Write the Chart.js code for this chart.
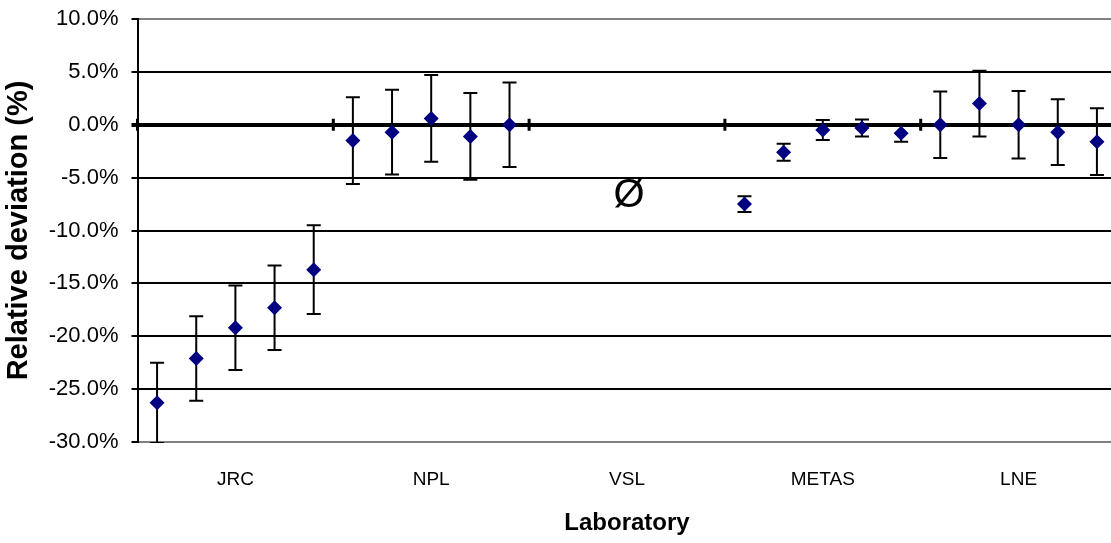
<!DOCTYPE html>
<html>
<head>
<meta charset="utf-8">
<script src="https://cdn.jsdelivr.net/npm/chart.js@4/dist/chart.umd.min.js"></script>
<style>
  html, body { margin: 0; padding: 0; background: #fff; overflow: hidden; }
  #wrap { width: 1125px; height: 543px; }
</style>
</head>
<body>
<div id="wrap"><canvas id="devChart" width="1125" height="543"></canvas></div>
<script>
// laboratories, 5 measurements each (VSL: no result)
const labs = ['JRC', 'NPL', 'VSL', 'METAS', 'LNE'];
const jrcDev = [-26.3, -22.1, -19.2, -17.3, -13.7];
const jrcErr = [3.8, 4.0, 4.0, 4.0, 4.2];
const nplDev = [-1.5, -0.7, 0.6, -1.1, 0.0];
const nplErr = [4.1, 4.0, 4.1, 4.1, 4.0];
const vslDev = [null, null, null, null, null];
const vslErr = [null, null, null, null, null];
const metasDev = [-7.5, -2.6, -0.5, -0.3, -0.8];
const metasErr = [0.75, 0.8, 0.95, 0.8, 0.8];
const lneDev = [0.0, 2.0, 0.0, -0.7, -1.6];
const lneErr = [3.15, 3.1, 3.2, 3.1, 3.15];
const yTicks = [-30, -25, -20, -15, -10, -5, 0, 5, 10];
const noResultMark = 'Ø';
const noResultY = -6.7;

const devByLab = [jrcDev, nplDev, vslDev, metasDev, lneDev];
const errByLab = [jrcErr, nplErr, vslErr, metasErr, lneErr];

const points = [];
const errors = [];
devByLab.forEach((vals, li) => {
    vals.forEach((v, j) => {
        if (v === null) return;
        points.push({ x: li * 5 + j + 0.5, y: v });
        errors.push(errByLab[li][j]);
    });
});

const FONT = "'Liberation Sans', Arial, sans-serif";

const errorBars = {
    id: 'errorBars',
    beforeDatasetsDraw(chart) {
        const { ctx, chartArea, scales: { x, y } } = chart;
        ctx.save();
        // small boundary marks on the zero line
        const y0 = y.getPixelForValue(0);
        ctx.fillStyle = '#000';
        for (let b = 0; b <= 20; b += 5) {
            const bx = x.getPixelForValue(b);
            ctx.fillRect(bx - 1.5, y0 - 6, 3, 12);
        }
        ctx.beginPath();
        ctx.rect(chartArea.left, chartArea.top, chartArea.right - chartArea.left, chartArea.bottom - chartArea.top + 1);
        ctx.clip();
        ctx.strokeStyle = '#000';
        ctx.lineWidth = 2;
        points.forEach((p, i) => {
            const px = x.getPixelForValue(p.x);
            const top = y.getPixelForValue(p.y + errors[i]);
            const bot = y.getPixelForValue(p.y - errors[i]);
            ctx.beginPath();
            ctx.moveTo(px, top); ctx.lineTo(px, bot);
            ctx.moveTo(px - 7, top); ctx.lineTo(px + 7, top);
            ctx.moveTo(px - 7, bot); ctx.lineTo(px + 7, bot);
            ctx.stroke();
        });
        ctx.restore();
    },
    afterDatasetsDraw(chart) {
        const { ctx, scales: { x, y } } = chart;
        ctx.save();
        ctx.fillStyle = '#000';
        ctx.font = '40px ' + FONT;
        ctx.textAlign = 'center';
        ctx.textBaseline = 'middle';
        ctx.fillText(noResultMark, x.getPixelForValue(12.55), y.getPixelForValue(noResultY));
        ctx.restore();
    }
};

new Chart(document.getElementById('devChart'), {
    type: 'scatter',
    data: {
        datasets: [{
            data: points,
            pointStyle: 'rectRot',
            pointRadius: 7.5,
            backgroundColor: '#000080',
            borderColor: '#000080',
            borderWidth: 0
        }]
    },
    options: {
        responsive: false,
        animation: false,
        layout: { padding: { top: 19, right: 8.5, bottom: 0, left: 0 } },
        plugins: { legend: { display: false }, tooltip: { enabled: false } },
        scales: {
            x: {
                type: 'linear',
                min: 0,
                max: 25,
                afterBuildTicks: (scale) => {
                    scale.ticks = labs.map((l, i) => ({ value: i * 5 + 2.5 }));
                },
                afterFit: (scale) => { scale.height = 101; },
                grid: { display: false, drawTicks: false },
                border: { display: false },
                ticks: {
                    autoSkip: false,
                    maxRotation: 0,
                    padding: 26,
                    color: '#000',
                    font: { family: FONT, size: 19 },
                    callback: (v) => labs[Math.floor(v / 5)]
                },
                title: {
                    display: true,
                    text: 'Laboratory',
                    color: '#000',
                    font: { family: FONT, size: 24, weight: 'bold' },
                    padding: { top: 0, bottom: 5 }
                }
            },
            y: {
                min: -30,
                max: 10,
                afterBuildTicks: (scale) => {
                    scale.ticks = yTicks.map(v => ({ value: v }));
                },
                afterFit: (scale) => {
                    scale.width = 137.5;
                    scale.paddingTop = 0;
                    scale.paddingBottom = 0;
                },
                border: { display: true, color: '#000', width: 2 },
                grid: {
                    color: (c) => (c.tick && (c.tick.value === 10 || c.tick.value === -30)) ? '#808080' : '#000',
                    lineWidth: (c) => (c.tick && c.tick.value === 0) ? 4 : 2,
                    tickColor: '#000',
                    tickLength: 6
                },
                ticks: {
                    padding: 13,
                    color: '#000',
                    font: { family: FONT, size: 22 },
                    callback: (v) => v.toFixed(1) + '%'
                },
                title: {
                    display: true,
                    text: 'Relative deviation (%)',
                    color: '#000',
                    font: { family: FONT, size: 29, weight: 'bold' },
                    padding: { top: 2, bottom: 0 }
                }
            }
        }
    },
    plugins: [errorBars]
});
</script>
</body>
</html>
